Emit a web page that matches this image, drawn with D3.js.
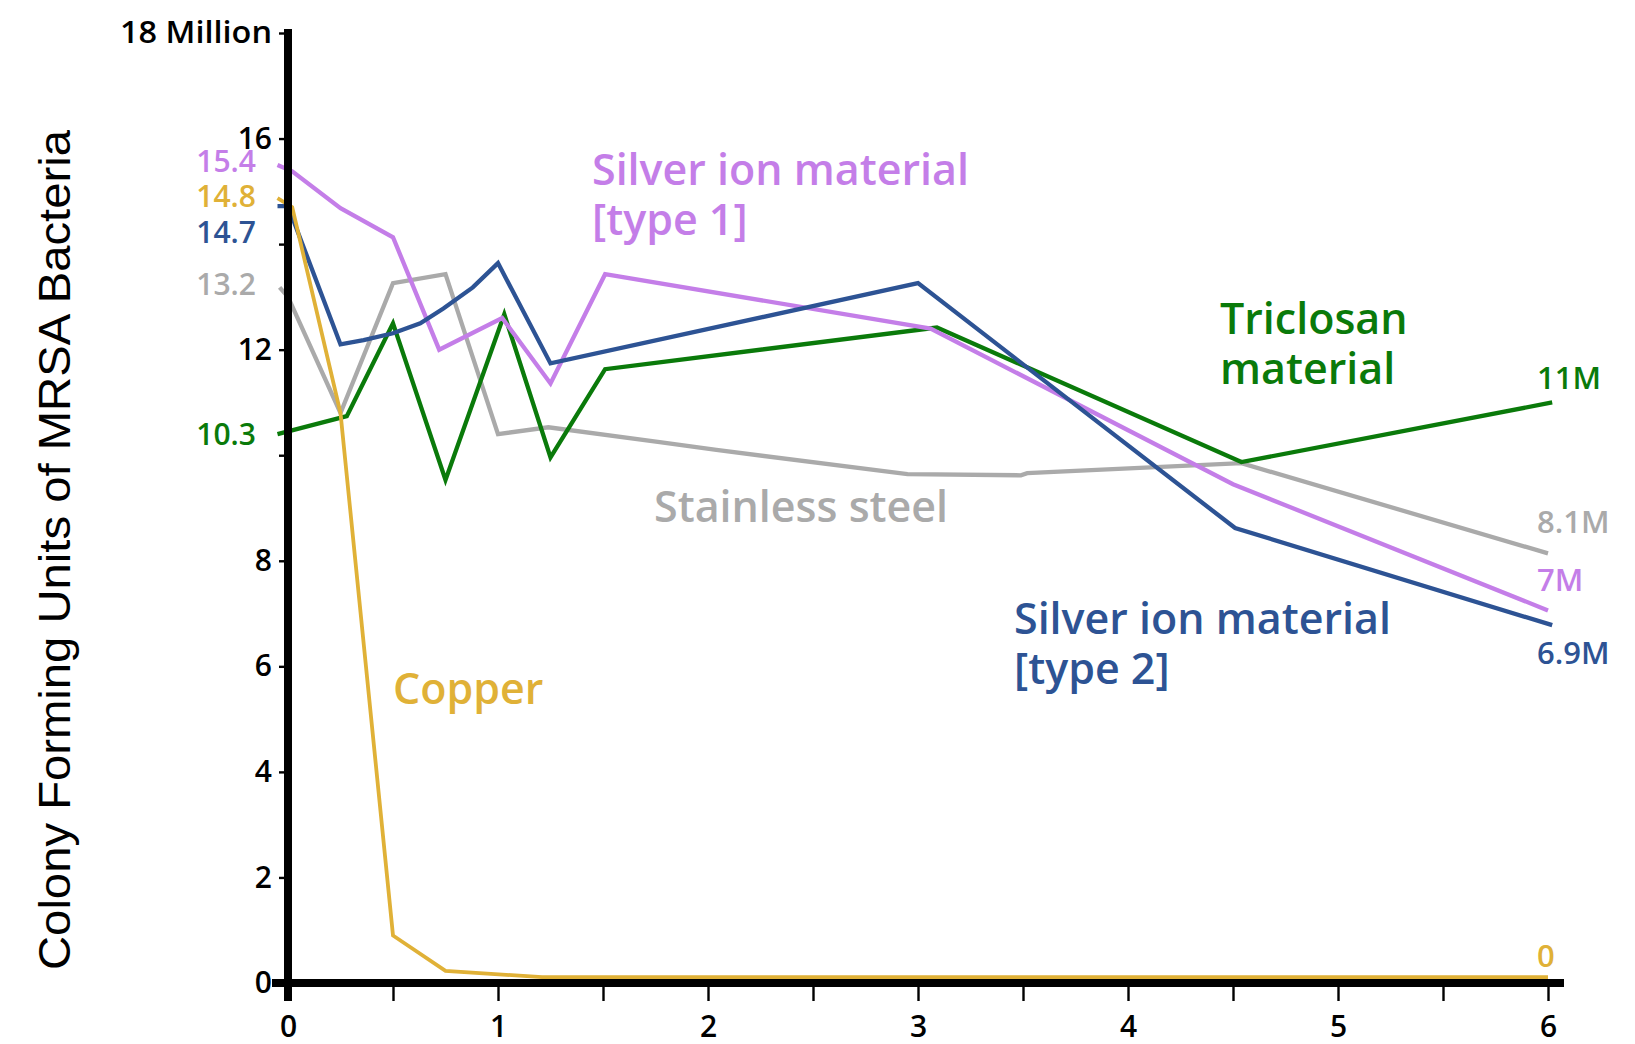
<!DOCTYPE html>
<html><head><meta charset="utf-8">
<script src="https://cdn.jsdelivr.net/npm/d3@7"></script>
<style>html,body{margin:0;padding:0;background:#fff;} svg{display:block}</style>
</head><body><svg id="chart" width="1635" height="1044"></svg>
<script>
// ---------- data (hours of exposure, millions of CFU) ----------
const seriesNames = ["Silver ion material [type 1]", "Copper", "Silver ion material [type 2]", "Stainless steel", "Triclosan material"];
const silver1Hours = [-0.05, 0.02, 0.25, 0.5, 0.72, 1.02, 1.25, 1.51, 3.06, 4.5, 6.0];
const silver1Cfu   = [15.5, 15.38, 14.68, 14.13, 12.0, 12.6, 11.36, 13.43, 12.4, 9.45, 7.06];
const copperHours  = [-0.05, 0.02, 0.25, 0.5, 0.75, 1.21, 6.0];
const copperCfu    = [14.87, 14.7, 10.8, 0.9, 0.23, 0.11, 0.11];
const silver2Hours = [-0.05, 0.0, 0.25, 0.36, 0.5, 0.63, 0.74, 0.88, 1.0, 1.25, 3.0, 4.51, 6.02];
const silver2Cfu   = [14.72, 14.72, 12.1, 12.18, 12.31, 12.5, 12.78, 13.18, 13.64, 11.74, 13.26, 8.62, 6.78];
const steelHours   = [-0.04, 0.0, 0.25, 0.5, 0.75, 1.0, 1.24, 1.77, 2.04, 2.95, 3.49, 3.52, 4.54, 6.0];
const steelCfu     = [13.18, 13.0, 10.8, 13.26, 13.43, 10.4, 10.53, 10.25, 10.1, 9.64, 9.62, 9.66, 9.85, 8.14];
const triclosanHours = [-0.05, 0.28, 0.5, 0.75, 1.03, 1.25, 1.51, 3.09, 4.54, 6.02];
const triclosanCfu   = [10.4, 10.74, 12.5, 9.53, 12.67, 9.96, 11.63, 12.42, 9.87, 11.0];
const startLabels = ["15.4", "14.8", "14.7", "13.2", "10.3"];
const endLabels   = ["7M", "0", "6.9M", "8.1M", "11M"];
const nameLines   = [["Silver ion material", "[type 1]"], ["Copper"], ["Silver ion material", "[type 2]"], ["Stainless steel"], ["Triclosan", "material"]];
const yTicks      = [0, 2, 4, 6, 8, 10, 12, 14, 16, 18];
const yTickLabels = ["0", "2", "4", "6", "8", "", "12", "", "16", "18 Million"];
const xTicks      = [0, 0.5, 1, 1.5, 2, 2.5, 3, 3.5, 4, 4.5, 5, 5.5, 6];
const xTickLabels = ["0", "", "1", "", "2", "", "3", "", "4", "", "5", "", "6"];
const yTitle = "Colony Forming Units of MRSA Bacteria";

// ---------- styling / layout ----------
const colors = ["#c47ee8", "#e0b137", "#2d5394", "#aaaaaa", "#0a7a0a"];
const widths = [4.3, 3.8, 4.3, 4.3, 4.3];
const FONT = "'Open Sans', 'Noto Sans', sans-serif";
const WEIGHT = 600;
const startLabelBaseline = [172, 207, 243, 295, 445];
const endLabelBaseline   = [591, 967, 664, 533, 389];
const nameLayout = [{x: 592, y: 185}, {x: 393, y: 704}, {x: 1014, y: 634}, {x: 654, y: 522}, {x: 1220, y: 334}];

const svg = d3.select("#chart");
const x = d3.scaleLinear().domain([0, 6]).range([288, 1548]);
const y = d3.scaleLinear().domain([0, 18]).range([983, 33]);

const hours = [silver1Hours, copperHours, silver2Hours, steelHours, triclosanHours];
const cfu = [silver1Cfu, copperCfu, silver2Cfu, steelCfu, triclosanCfu];
const series = seriesNames.map((n, i) => ({name: n, pts: hours[i].map((h, j) => [h, cfu[i][j]])}));

const line = d3.line().x(d => x(d[0])).y(d => y(d[1]));

// draw order: steel, triclosan, silver1, silver2, copper
const order = [3, 4, 0, 2, 1];
svg.append("g").selectAll("path").data(order).join("path")
  .attr("d", i => line(series[i].pts))
  .attr("fill", "none")
  .attr("stroke", i => colors[i])
  .attr("stroke-width", i => widths[i])
  .attr("stroke-linejoin", "miter");

// ---------- axes ----------
const yAxis = d3.axisLeft(y).tickValues(yTicks).tickSize(9).tickPadding(7)
  .tickFormat((d, i) => yTickLabels[i]);
const gy = svg.append("g").attr("transform", `translate(${x(0)},0)`).call(yAxis);
gy.select(".domain").remove();
gy.selectAll(".tick line").attr("stroke", "#000").attr("stroke-width", 2.4);
gy.selectAll(".tick text").attr("font-family", FONT).attr("font-size", 30).attr("font-weight", WEIGHT).attr("fill", "#000");
gy.selectAll(".tick text").filter(d => d === 18)
  .attr("textLength", 152).attr("lengthAdjust", "spacingAndGlyphs");

const xAxis = d3.axisBottom(x).tickValues(xTicks).tickSize(18).tickPadding(15)
  .tickFormat((d, i) => xTickLabels[i]);
const gx = svg.append("g").attr("transform", `translate(0,${y(0)})`).call(xAxis);
gx.select(".domain").remove();
gx.selectAll(".tick line").attr("stroke", "#000").attr("stroke-width", 2.4);
gx.selectAll(".tick text").attr("font-family", FONT).attr("font-size", 30).attr("font-weight", WEIGHT).attr("fill", "#000");

// thick axis lines
svg.append("line").attr("x1", x(0)).attr("x2", x(0)).attr("y1", y(18) - 4).attr("y2", y(0) + 18)
  .attr("stroke", "#000").attr("stroke-width", 8);
svg.append("line").attr("x1", x(0) - 16).attr("x2", x(6) + 16).attr("y1", y(0)).attr("y2", y(0))
  .attr("stroke", "#000").attr("stroke-width", 8);

// ---------- y title ----------
svg.append("text")
  .attr("transform", `translate(70,550) rotate(-90)`)
  .attr("text-anchor", "middle")
  .attr("font-family", "'Liberation Sans', Arial, sans-serif")
  .attr("font-size", 45)
  .attr("textLength", 840).attr("lengthAdjust", "spacingAndGlyphs")
  .attr("fill", "#000")
  .text(yTitle);

// ---------- start / end value labels ----------
series.forEach((s, i) => {
  svg.append("text").attr("x", 256).attr("y", startLabelBaseline[i])
    .attr("text-anchor", "end").attr("font-family", FONT).attr("font-size", 30).attr("font-weight", WEIGHT)
    .attr("fill", colors[i]).text(startLabels[i]);
  svg.append("text").attr("x", 1537).attr("y", endLabelBaseline[i])
    .attr("text-anchor", "start").attr("font-family", FONT).attr("font-size", 31).attr("font-weight", WEIGHT)
    .attr("fill", colors[i]).text(endLabels[i]);
});

// ---------- series names ----------
const probe = svg.append("text").attr("font-family", FONT).attr("font-size", 40).attr("font-weight", WEIGHT).text("Silver ion material");
const nameSize = 40 * 377 / probe.node().getComputedTextLength();
probe.remove();
series.forEach((s, i) => {
  const t = svg.append("text").attr("x", nameLayout[i].x).attr("y", nameLayout[i].y)
    .attr("font-family", FONT).attr("font-size", nameSize).attr("font-weight", WEIGHT).attr("fill", colors[i]);
  nameLines[i].forEach((ln, k) => {
    t.append("tspan").attr("x", nameLayout[i].x).attr("dy", k === 0 ? 0 : 50).text(ln);
  });
});
</script></body></html>
